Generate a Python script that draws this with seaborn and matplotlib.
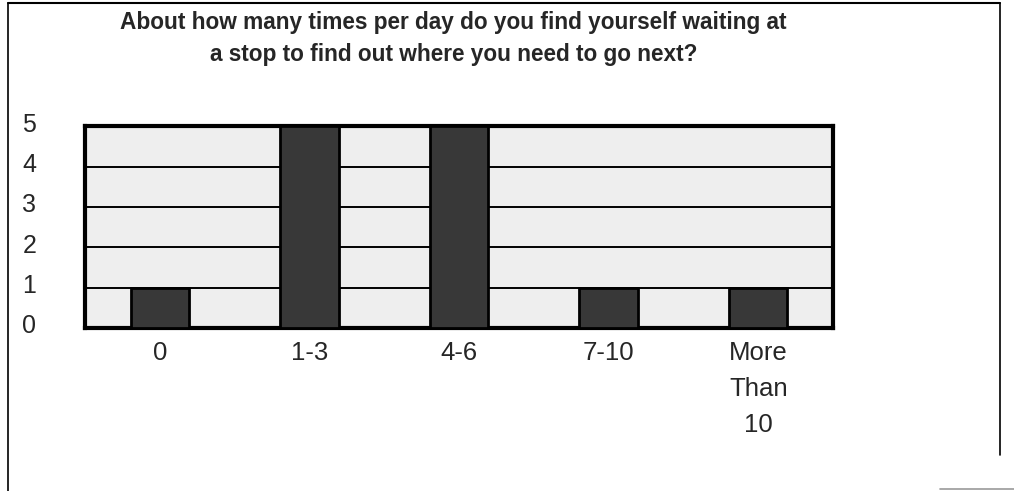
import matplotlib
matplotlib.use('Agg')
import matplotlib.pyplot as plt
import matplotlib.transforms as mtransforms
import seaborn as sns
import pandas as pd
from matplotlib.lines import Line2D

categories = ['0', '1-3', '4-6', '7-10', 'More\nThan\n10']
counts = [1, 5, 5, 1, 1]
y_ticks = [0, 1, 2, 3, 4, 5]
title = ('About how many times per day do you find yourself waiting at\n'
         'a stop to find out where you need to go next?')

sns.set_theme(style='white')
plt.rcParams['font.family'] = ['Liberation Sans', 'DejaVu Sans']

df = pd.DataFrame({'answer': categories, 'count': counts})

fig = plt.figure(figsize=(10.14, 4.91), dpi=100)
ax = fig.add_axes([0.0838, 0.332, 0.7377, 0.411])
ax.set_facecolor('#eeeeee')

sns.barplot(data=df, x='answer', y='count', color='#383838', width=0.39,
            edgecolor='black', linewidth=2, saturation=1, ax=ax, zorder=3)

ax.set_ylim(0, 5)
ax.set_xlim(-0.5, len(categories) - 0.5)
ax.set_yticks(y_ticks)
for v in y_ticks[1:-1]:
    ax.axhline(v, color='black', lw=1.4, zorder=1)
ax.tick_params(axis='y', length=0, pad=40, labelsize=18)
ax.tick_params(axis='x', length=0, pad=9.5, labelsize=18.5)
for lbl in ax.get_xticklabels():
    lbl.set_linespacing(1.62)
shift_up = mtransforms.ScaledTranslation(0, 4 / 100, fig.dpi_scale_trans)
for lbl in ax.get_yticklabels():
    lbl.set_horizontalalignment('center')
    lbl.set_transform(lbl.get_transform() + shift_up)
ax.set_xlabel('')
ax.set_ylabel('')
for s in ax.spines.values():
    s.set_visible(True)
    s.set_color('black')
    s.set_linewidth(3)

fig.text(0.447, 0.9216, title, ha='center', va='center', fontsize=16.3,
         fontweight='bold', linespacing=1.55)

# outer frame of the page
W, H = 1014, 491
fig.add_artist(Line2D([8 / W, 8 / W], [0, 1 - 3 / H], color='black', lw=1.2))
fig.add_artist(Line2D([8 / W, 1000 / W], [1 - 3 / H, 1 - 3 / H], color='black', lw=1.5))
fig.add_artist(Line2D([1000 / W, 1000 / W], [1 - 3 / H, 1 - 455 / H], color='black', lw=1.2))
fig.add_artist(Line2D([940 / W, 1], [2 / H, 2 / H], color='#999999', lw=1.2))

fig.savefig('out.png', dpi=100)
